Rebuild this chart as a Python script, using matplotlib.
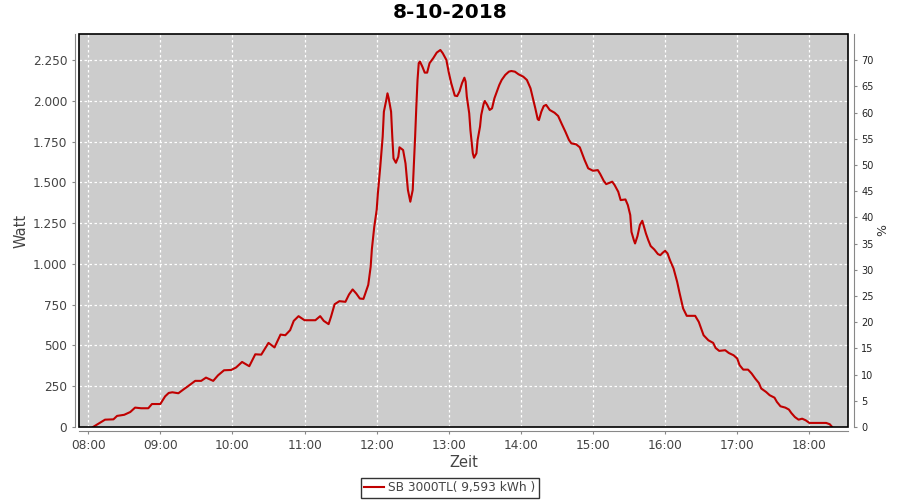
import matplotlib
matplotlib.use("Agg")
import matplotlib.pyplot as plt
import matplotlib.dates as mdates
from matplotlib.patches import Rectangle
from matplotlib.ticker import FuncFormatter
import pandas as pd

day = "2018-10-08"
times = ["08:04", "08:14", "08:21", "08:24", "08:30", "08:35", "08:39", "08:44", "08:50", "08:53",
         "09:00", "09:04", "09:07", "09:10", "09:15", "09:19", "09:23", "09:29", "09:34", "09:38",
         "09:44", "09:48", "09:53", "09:59", "10:03", "10:08", "10:14", "10:19", "10:24", "10:30",
         "10:35", "10:40", "10:44", "10:48", "10:51", "10:55", "11:00", "11:09", "11:13", "11:16",
         "11:20", "11:22", "11:25", "11:29", "11:34", "11:37", "11:40", "11:43", "11:46", "11:49",
         "11:51", "11:53", "11:55", "11:56", "11:58", "12:00", "12:01", "12:02", "12:03", "12:05",
         "12:06", "12:08", "12:09", "12:10", "12:12", "12:13", "12:14", "12:16", "12:18", "12:19",
         "12:22", "12:24", "12:25", "12:26", "12:28", "12:30", "12:31", "12:32", "12:33", "12:34",
         "12:35", "12:36", "12:38", "12:40", "12:42", "12:44", "12:47", "12:50", "12:53", "12:55",
         "12:58", "13:00", "13:02", "13:05", "13:07", "13:09", "13:11", "13:13", "13:14", "13:15",
         "13:17", "13:18", "13:20", "13:21", "13:23", "13:24", "13:26", "13:27", "13:29", "13:30",
         "13:32", "13:34", "13:36", "13:38", "13:40", "13:42", "13:44", "13:47", "13:50", "13:52",
         "13:55", "13:58", "14:02", "14:05", "14:08", "14:10", "14:12", "14:14", "14:15", "14:17",
         "14:19", "14:21", "14:24", "14:28", "14:31", "14:34", "14:37", "14:40", "14:42", "14:46",
         "14:49", "14:53", "14:56", "15:00", "15:04", "15:06", "15:09", "15:11", "15:16", "15:18",
         "15:21", "15:23", "15:27", "15:29", "15:31", "15:32", "15:34", "15:35", "15:37", "15:39",
         "15:41", "15:42", "15:44", "15:46", "15:48", "15:51", "15:54", "15:56", "15:58", "16:00",
         "16:02", "16:04", "16:07", "16:10", "16:12", "16:15", "16:18", "16:25", "16:28", "16:30",
         "16:32", "16:36", "16:40", "16:42", "16:45", "16:50", "16:53", "16:57", "17:00", "17:02",
         "17:05", "17:09", "17:12", "17:15", "17:18", "17:20", "17:24", "17:27", "17:31", "17:33",
         "17:36", "17:40", "17:43", "17:45", "17:48", "17:51", "17:54", "17:57", "18:00", "18:14",
         "18:17", "18:19"]
watt = [0, 45, 47, 68, 75, 92, 119, 115, 115, 141,
        141, 188, 209, 213, 207, 229, 250, 283, 283, 303,
        283, 317, 348, 350, 365, 399, 373, 446, 444, 516,
        488, 567, 563, 594, 651, 680, 655, 655, 680, 651,
        631, 676, 753, 772, 768, 813, 844, 819, 788, 786,
        829, 872, 983, 1090, 1228, 1331, 1433, 1515, 1597, 1781,
        1934, 2006, 2047, 2017, 1934, 1781, 1648, 1621, 1658, 1716,
        1699, 1617, 1535, 1454, 1382, 1454, 1617, 1781, 1965, 2129,
        2232, 2242, 2211, 2174, 2174, 2232, 2262, 2297, 2313, 2293,
        2252, 2175, 2110, 2033, 2030, 2060, 2109, 2143, 2119, 2027,
        1925, 1822, 1679, 1652, 1679, 1761, 1843, 1914, 1982, 2000,
        1976, 1945, 1955, 2017, 2057, 2098, 2129, 2160, 2180, 2184,
        2180, 2164, 2149, 2129, 2078, 2017, 1955, 1888, 1883, 1934,
        1969, 1976, 1945, 1928, 1908, 1859, 1812, 1761, 1740, 1734,
        1716, 1638, 1587, 1572, 1576, 1552, 1509, 1490, 1505, 1484,
        1443, 1392, 1396, 1361, 1300, 1197, 1146, 1126, 1171, 1239,
        1265, 1239, 1188, 1146, 1110, 1089, 1061, 1054, 1069, 1081,
        1065, 1024, 973, 891, 823, 727, 682, 682, 645, 604,
        563, 532, 516, 485, 467, 471, 454, 440, 420, 379,
        352, 352, 328, 297, 270, 236, 215, 195, 180, 154,
        127, 119, 107, 86, 61, 45, 51, 41, 25, 25,
        17, 0]

title = "8-10-2018"
series_label = "SB 3000TL( 9,593 kWh )"
watt_ticks = [0, 250, 500, 750, 1000, 1250, 1500, 1750, 2000, 2250]
pct_ticks = list(range(0, 75, 5))

x = pd.to_datetime([f"{day} {t}" for t in times])

fig = plt.figure(figsize=(9, 5), dpi=100)
ax = fig.add_axes([79 / 900, 1 - 427 / 500, (848 - 79) / 900, (427 - 34) / 500])
ax.set_facecolor("#CCCCCC")

line, = ax.plot(x, watt, color="#C00000", lw=1.5, label=series_label)

ax.set_xlim(pd.Timestamp(f"{day} 07:52:20"), pd.Timestamp(f"{day} 18:32:10"))
ax.set_ylim(0, 2411)
ax.set_yticks(watt_ticks)
ax.yaxis.set_major_formatter(FuncFormatter(lambda v, p: f"{int(v):,}".replace(",", ".")))
ax.xaxis.set_major_locator(mdates.HourLocator())
ax.xaxis.set_major_formatter(mdates.DateFormatter("%H:%M"))

ax.grid(True, color="white", linestyle=(0, (2, 2)), linewidth=0.9)
ax.set_axisbelow(True)

for s in ["left", "bottom"]:
    ax.spines[s].set_position(("outward", 3))
    ax.spines[s].set_color("#888888")
ax.spines["top"].set_visible(False)
ax.spines["right"].set_visible(False)
ax.add_patch(Rectangle((0, 0), 1, 1, transform=ax.transAxes, fill=False,
                       edgecolor="black", lw=1.2, clip_on=False, zorder=5))

ax.tick_params(axis="both", colors="#888888", labelcolor="#444444", labelsize=8.7,
               length=2, width=0.8, direction="out")

ax.set_ylabel("Watt", fontsize=10.5, color="#444444", labelpad=3)
ax.set_xlabel("Zeit", fontsize=10.5, color="#444444", labelpad=2)

ax2 = ax.twinx()
ax2.set_ylim(0, 75)
ax2.set_yticks(pct_ticks)
for s in ["left", "top", "bottom"]:
    ax2.spines[s].set_visible(False)
ax2.spines["right"].set_position(("outward", 4))
ax2.spines["right"].set_color("#888888")
ax2.tick_params(axis="y", colors="#888888", labelcolor="#222222", labelsize=7,
                length=2, width=0.8, direction="out")
ax2.set_ylabel("%", fontsize=9, color="#333333", labelpad=2)

fig.text(0.5, 1 - 13 / 500, title, ha="center", va="center",
         fontsize=14.5, fontweight="bold", color="black")

leg = fig.legend(handles=[line], loc="center", bbox_to_anchor=(450 / 900, 1 - 488 / 500),
                 fontsize=8.7, frameon=True, fancybox=False, edgecolor="black",
                 handlelength=1.6, handletextpad=0.4, borderpad=0.3, borderaxespad=0)
leg.get_frame().set_linewidth(1.0)
for t in leg.get_texts():
    t.set_color("#444444")

fig.savefig("out.png", dpi=100)
